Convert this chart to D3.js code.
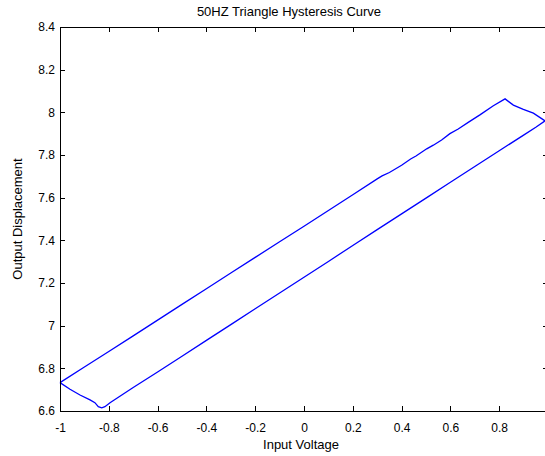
<!DOCTYPE html>
<meta charset="utf-8">
<style>

    body {
        margin: 0;
        background: #fff;
        font: 12px Arial, "Liberation Sans", sans-serif;
    }

    .axis path, .axis line {
        stroke: #000;
        stroke-width: 1;
        shape-rendering: crispEdges;
    }

    .axis text {
        fill: #000;
        font: 12px Arial, "Liberation Sans", sans-serif;
    }

    .loop {
        fill: none;
        stroke: #0000FF;
        stroke-width: 1.3;
    }

    .label {
        fill: #000;
        font: 13px Arial, "Liberation Sans", sans-serif;
    }

</style>
<body>
<script src="https://d3js.org/d3.v7.min.js"></script>
<script>

    // lower branch, left to right (starts at the left tip, dips to the minimum)
    var lowerX = [-1, -0.959, -0.918, -0.877, -0.857, -0.843, -0.829, -0.816, -0.795,
        -0.7, -0.6, -0.5, -0.4, -0.3, -0.2, -0.1, 0, 0.1, 0.2, 0.3, 0.4, 0.5,
        0.6, 0.7, 0.8, 0.9, 0.95, 0.988];
    var lowerY = [6.733, 6.702, 6.675, 6.652, 6.639, 6.62, 6.615, 6.62, 6.639,
        6.71, 6.783, 6.857, 6.931, 7.005, 7.079, 7.153, 7.227, 7.301, 7.376, 7.45, 7.524, 7.598,
        7.672, 7.746, 7.82, 7.893, 7.93, 7.96];

    // upper branch, right to left (from the right tip over the peak back to the left tip)
    var upperX = [0.94, 0.899, 0.858, 0.824, 0.776, 0.721, 0.673, 0.632, 0.598, 0.564,
        0.53, 0.503, 0.459, 0.437, 0.4, 0.35, 0.32, 0.3, 0.2, 0.1, 0, -0.1, -0.2, -0.3,
        -0.4, -0.5, -0.6, -0.7, -0.8, -0.9, -1];
    var upperY = [7.996, 8.014, 8.034, 8.063, 8.031, 7.988, 7.953, 7.922, 7.9, 7.87,
        7.846, 7.829, 7.795, 7.781, 7.752, 7.718, 7.702, 7.688, 7.614, 7.54, 7.466, 7.393, 7.32, 7.247,
        7.173, 7.1, 7.026, 6.952, 6.879, 6.806, 6.733];

    var xTicks = [-1, -0.8, -0.6, -0.4, -0.2, 0, 0.2, 0.4, 0.6, 0.8];
    var xTickLabels = ["-1", "-0.8", "-0.6", "-0.4", "-0.2", "0", "0.2", "0.4", "0.6", "0.8"];
    var yTicks = [6.6, 6.8, 7, 7.2, 7.4, 7.6, 7.8, 8, 8.2, 8.4];
    var yTickLabels = ["6.6", "6.8", "7", "7.2", "7.4", "7.6", "7.8", "8", "8.2", "8.4"];

    var margin = {top: 27, right: -3, bottom: 45, left: 60},
        width = 545 - margin.left - margin.right,
        height = 456 - margin.top - margin.bottom;

    var x = d3.scaleLinear()
        .domain([-1, 1])
        .range([0, width]);

    var y = d3.scaleLinear()
        .domain([6.6, 8.4])
        .range([height, 0]);

    var svg = d3.select("body").append("svg")
        .attr("width", 545)
        .attr("height", 456)
        .style("display", "block")
        .append("g")
        .attr("transform", "translate(" + margin.left + "," + margin.top + ")");

    var points = [];
    lowerX.forEach(function(d, i) { points.push([d, lowerY[i]]); });
    upperX.forEach(function(d, i) { points.push([d, upperY[i]]); });

    var line = d3.line()
        .x(function(d) { return x(d[0]); })
        .y(function(d) { return y(d[1]); });

    svg.append("path")
        .datum(points)
        .attr("class", "loop")
        .attr("d", line);

    // MATLAB style box with inward ticks
    svg.append("g")
        .attr("class", "x axis")
        .attr("transform", "translate(0," + height + ")")
        .call(d3.axisBottom(x).tickValues(xTicks).tickSize(-5).tickSizeOuter(0).tickPadding(12)
            .tickFormat(function(d, i) { return xTickLabels[i]; }));

    svg.append("g")
        .attr("class", "x axis")
        .call(d3.axisTop(x).tickValues(xTicks).tickSize(-5).tickSizeOuter(0).tickFormat(""));

    svg.append("g")
        .attr("class", "y axis")
        .call(d3.axisLeft(y).tickValues(yTicks).tickSize(-5).tickSizeOuter(0).tickPadding(5)
            .tickFormat(function(d, i) { return yTickLabels[i]; }));

    svg.append("g")
        .attr("class", "y axis")
        .attr("transform", "translate(" + width + ",0)")
        .call(d3.axisRight(y).tickValues(yTicks).tickSize(-5).tickSizeOuter(0).tickFormat(""));

    svg.append("text")
        .attr("class", "label")
        .attr("x", 289 - margin.left)
        .attr("y", 16 - margin.top)
        .style("text-anchor", "middle")
        .text("50HZ Triangle Hysteresis Curve");

    svg.append("text")
        .attr("class", "label")
        .attr("x", 301 - margin.left)
        .attr("y", 449 - margin.top)
        .style("text-anchor", "middle")
        .text("Input Voltage");

    svg.append("text")
        .attr("class", "label")
        .attr("transform", "translate(" + (22 - margin.left) + "," + (219 - margin.top) + ")rotate(-90)")
        .style("text-anchor", "middle")
        .text("Output Displacement");

</script>
